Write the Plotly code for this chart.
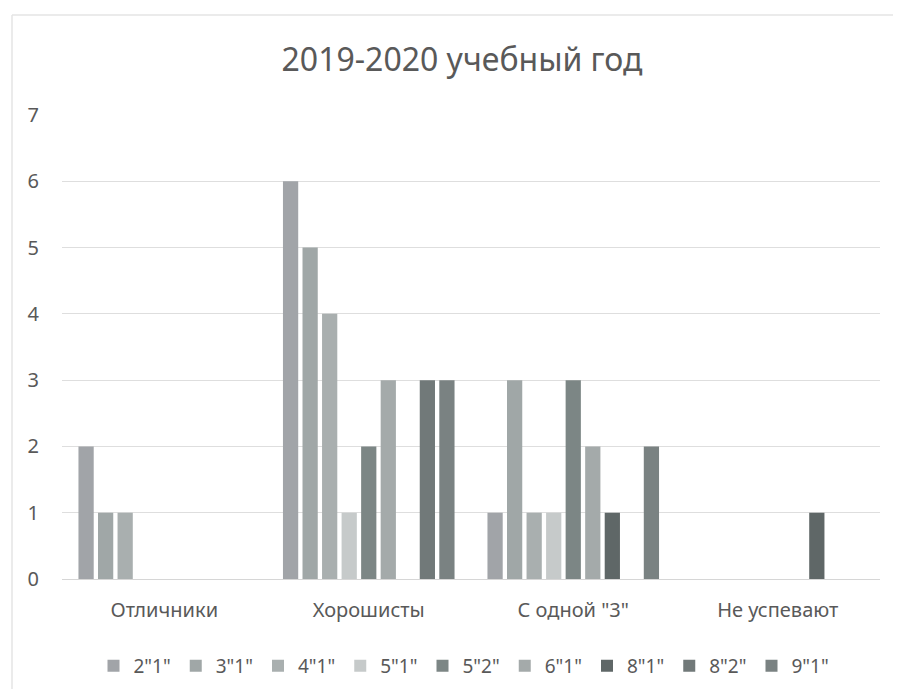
import plotly.graph_objects as go

categories = ["Отличники", "Хорошисты", "С одной \"3\"", "Не успевают"]
series_names = ['2"1"', '3"1"', '4"1"', '5"1"', '5"2"', '6"1"', '8"1"', '8"2"', '9"1"']
v_2_1 = [2, 6, 1, 0]
v_3_1 = [1, 5, 3, 0]
v_4_1 = [1, 4, 1, 0]
v_5_1 = [0, 1, 1, 0]
v_5_2 = [0, 2, 3, 0]
v_6_1 = [0, 3, 2, 0]
v_8_1 = [0, 0, 1, 1]
v_8_2 = [0, 3, 0, 0]
v_9_1 = [0, 3, 2, 0]
series_values = [v_2_1, v_3_1, v_4_1, v_5_1, v_5_2, v_6_1, v_8_1, v_8_2, v_9_1]
colors = ["#a1a4a8", "#a0a7a7", "#a9afaf", "#c6caca", "#7c8685",
          "#a4aaaa", "#5f6767", "#717979", "#7a8282"]
y_ticks = [0, 1, 2, 3, 4, 5, 6, 7]

FONT = "Noto Sans"
GREY = "#595959"

# page body has an 8px margin; figure is sized to fit the visible window
W, H = 893, 689
L, R, T, B = 54, 21, 107, 118
PW, PH = W - L - R, H - T - B

fig = go.Figure()
for name, vals, col in zip(series_names, series_values, colors):
    fig.add_trace(go.Bar(name=name, x=categories, y=vals, marker_color=col,
                         marker_line_width=0))

bx = -50 / PW
by = 1 + 100 / PH

fig.update_layout(
    width=W, height=H,
    paper_bgcolor="white", plot_bgcolor="white",
    barmode="group", bargap=0.14, bargroupgap=0.22,
    margin=dict(l=L, r=R, t=T, b=B, autoexpand=False),
    title=dict(text="2019-2020 учебный год", x=454 / W, xanchor="center",
               y=1 - 52 / H, yanchor="middle", yref="container",
               font=dict(family=FONT, size=32, color=GREY)),
    font=dict(family=FONT, color=GREY),
    legend=dict(orientation="h", x=(456 - L) / PW, xanchor="center",
                y=-(658 - (H - B)) / PH,
                yanchor="middle", font=dict(family=FONT, size=19, color=GREY),
                itemwidth=30, traceorder="normal"),
    showlegend=True,
    xaxis=dict(showgrid=False, showline=False, zeroline=False,
               tickfont=dict(family=FONT, size=20, color=GREY),
               ticklabelstandoff=17),
    yaxis=dict(range=[0, 7], tickvals=y_ticks, showgrid=True,
               gridcolor="#dedede", gridwidth=1, zeroline=True,
               zerolinecolor="#d6d6d6", zerolinewidth=1, showline=False,
               tickfont=dict(family=FONT, size=20, color=GREY),
               ticklabelstandoff=22),
    shapes=[
        dict(type="line", xref="paper", yref="paper", x0=bx, x1=1.02,
             y0=by, y1=by, line=dict(color="#e4e4e4", width=1.5)),
        dict(type="line", xref="paper", yref="paper", x0=bx, x1=bx,
             y0=by, y1=-110 / PH, line=dict(color="#e4e4e4", width=1.5)),
    ],
)

fig.write_html("out.html")
